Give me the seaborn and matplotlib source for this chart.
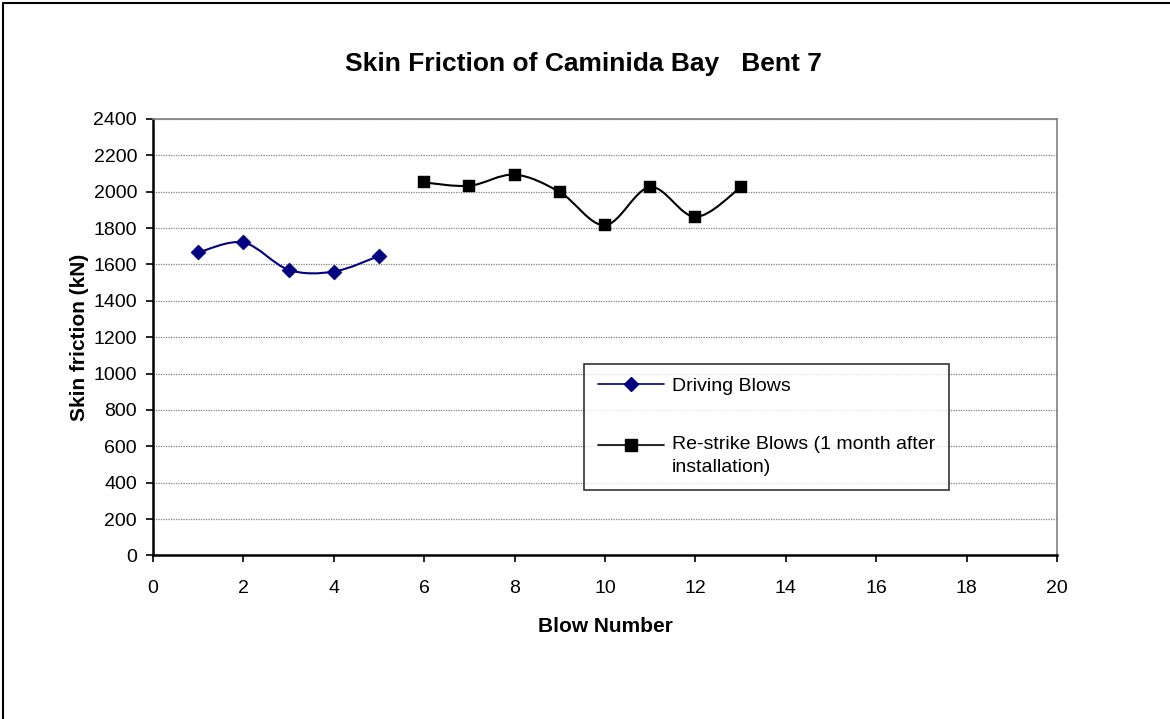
import numpy as np
import matplotlib
matplotlib.use("Agg")
import matplotlib.pyplot as plt
from matplotlib.path import Path
from matplotlib.patches import PathPatch, Rectangle
from matplotlib.lines import Line2D
from matplotlib.legend_handler import HandlerLine2D
import seaborn as sns

# data
driving_blows = [1, 2, 3, 4, 5]
driving_friction = [1666, 1721, 1571, 1561, 1647]

restrike_blows = [6, 7, 8, 9, 10, 11, 12, 13]
restrike_friction = [2051, 2033, 2094, 1998, 1816, 2026, 1862, 2024]

x_ticks = list(range(0, 21, 2))
y_ticks = list(range(0, 2401, 200))

NAVY = "#000080"

sns.set_style("white")
plt.rcParams["font.family"] = ["Liberation Sans", "DejaVu Sans"]
plt.rcParams["text.color"] = "black"
plt.rcParams["axes.labelcolor"] = "black"


def smooth_path(xs, ys, f=1 / 6):
    # excel-style smoothed line: cubic bezier through the points
    p = np.column_stack([xs, ys]).astype(float)
    n = len(p)
    verts = [p[0]]
    codes = [Path.MOVETO]
    for i in range(n - 1):
        p0 = p[i - 1] if i > 0 else p[i]
        p3 = p[i + 2] if i + 2 < n else p[i + 1]
        c1 = p[i] + (p[i + 1] - p0) * f
        c2 = p[i + 1] - (p3 - p[i]) * f
        verts += [c1, c2, p[i + 1]]
        codes += [Path.CURVE4] * 3
    return Path(verts, codes)


class ShiftedHandler(HandlerLine2D):
    # puts the legend handle next to the first line of a two-line label
    def __init__(self, dy, **kw):
        super().__init__(**kw)
        self.dy = dy

    def create_artists(self, legend, orig_handle, xdescent, ydescent,
                       width, height, fontsize, trans):
        return super().create_artists(legend, orig_handle, xdescent,
                                      ydescent - self.dy, width, height,
                                      fontsize, trans)


fig = plt.figure(figsize=(11.7, 7.19), dpi=100)
ax = fig.add_axes([0.1308, 0.2274, 0.7726, 0.6071])

# outer chart border (left and top visible)
fig.patches.append(Rectangle((3 / 1170, -0.1), 1.2, 1 - 3 / 719 + 0.1,
                             transform=fig.transFigure, fill=False,
                             edgecolor="black", linewidth=1.5))

ax.add_patch(PathPatch(smooth_path(driving_blows, driving_friction),
                       facecolor="none", edgecolor=NAVY, linewidth=1.5, zorder=3))
ax.add_patch(PathPatch(smooth_path(restrike_blows, restrike_friction),
                       facecolor="none", edgecolor="black", linewidth=1.5, zorder=3))

sns.scatterplot(x=driving_blows, y=driving_friction, marker="D", s=60,
                color=NAVY, edgecolor=NAVY, linewidth=0.3, ax=ax, zorder=4)
sns.scatterplot(x=restrike_blows, y=restrike_friction, marker="s", s=85,
                color="black", edgecolor="black", linewidth=0.3, ax=ax, zorder=4)

ax.set_xlim(0, 20)
ax.set_ylim(0, 2400)
ax.set_xticks(x_ticks)
ax.set_yticks(y_ticks)
ax.tick_params(axis="both", labelsize=14, colors="black", direction="out",
               length=5, width=1.2, bottom=True, left=True)
ax.tick_params(axis="x", pad=13)
ax.tick_params(axis="y", pad=6.5)
ax.yaxis.grid(True, color="#808080", linestyle=(0, (1, 1)), linewidth=0.9)
ax.set_axisbelow(True)

for side in ["top", "right"]:
    ax.spines[side].set_color("#808080")
    ax.spines[side].set_linewidth(1.2)
for side in ["left", "bottom"]:
    ax.spines[side].set_color("black")
    ax.spines[side].set_linewidth(1.8)

ax.set_xlabel("Blow Number", fontsize=15, fontweight="bold", labelpad=14)
ax.set_ylabel("Skin friction (kN)", fontsize=15, fontweight="bold", labelpad=3)
fig.text(0.4985, 1 - 64 / 719, "Skin Friction of Caminida Bay   Bent 7",
         ha="center", va="center", fontsize=19, fontweight="bold")

h_drive = Line2D([], [], color=NAVY, marker="D", markersize=7, linewidth=1.2)
h_restrike = Line2D([], [], color="black", marker="s", markersize=8, linewidth=1.2)
labels = ["Driving Blows", "Re-strike Blows (1 month after\ninstallation)"]
leg = ax.legend([h_drive, h_restrike], labels, loc="upper left",
                bbox_to_anchor=(0.477, 0.439), fontsize=14, frameon=True,
                fancybox=False, handlelength=3.4, handletextpad=0.4,
                borderpad=0.7, labelspacing=2.1, borderaxespad=0,
                handler_map={h_restrike: ShiftedHandler(dy=15)})
leg.get_frame().set_edgecolor("black")
leg.get_frame().set_linewidth(1.2)
for t in leg.get_texts():
    t.set_linespacing(1.5)

fig.savefig("out.png", dpi=100)
